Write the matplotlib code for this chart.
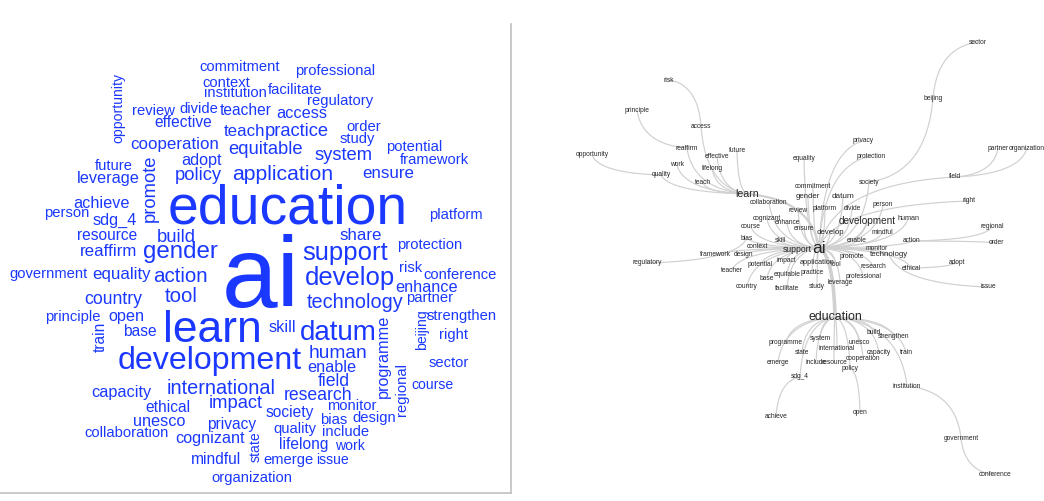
import numpy as np
import matplotlib.pyplot as plt

plt.rcParams['font.family'] = ['Liberation Sans', 'DejaVu Sans']

# ---- word cloud data: word and (estimated) frequency ----
words = ['commitment', 'context', 'institution', 'opportunity', 'review', 'divide',
         'teacher', 'effective', 'teach', 'practice', 'cooperation', 'equitable',
         'adopt', 'future', 'leverage', 'promote', 'policy', 'application', 'achieve',
         'person', 'sdg_4', 'resource', 'build', 'reaffirm', 'gender', 'government',
         'equality', 'action', 'country', 'tool', 'principle', 'open', 'train', 'base',
         'learn', 'development', 'capacity', 'international', 'ethical', 'impact',
         'unesco', 'privacy', 'collaboration', 'cognizant', 'mindful', 'organization',
         'state', 'support', 'share', 'develop', 'technology', 'risk', 'conference',
         'enhance', 'partner', 'strengthen', 'beijing', 'right', 'skill', 'datum',
         'programme', 'human', 'enable', 'field', 'sector', 'regional', 'course',
         'research', 'monitor', 'society', 'bias', 'design', 'quality', 'include',
         'lifelong', 'work', 'emerge', 'issue', 'professional', 'facilitate',
         'regulatory', 'access', 'order', 'study', 'potential', 'system', 'framework',
         'ensure', 'platform', 'protection', 'education', 'ai']
counts = [2, 2, 2, 1, 2, 2,
          3, 3, 5, 7, 5, 7,
          4, 2, 4, 7, 7, 11, 4,
          2, 4, 3, 7, 5, 15, 2,
          5, 10, 6, 10, 2, 4, 3, 3,
          43, 26, 4, 9, 3, 7,
          4, 3, 2, 4, 3, 2,
          1, 17, 5, 17, 9, 2, 2,
          4, 2, 2, 1, 2, 4, 20,
          4, 8, 4, 6, 2, 2, 1,
          6, 2, 3, 2, 2, 2, 2,
          3, 1, 2, 1, 2, 2,
          2, 4, 2, 2, 2, 7, 2,
          5, 2, 2, 58, 120]
vertical_words = {'opportunity', 'promote', 'train', 'programme', 'beijing',
                  'regional', 'state'}

# layout of the cloud (pixel centres)
cloud_pos = {
    'commitment': (240, 67), 'context': (226, 83), 'institution': (235, 93),
    'opportunity': (118, 108), 'review': (153, 111), 'divide': (199, 109),
    'teacher': (246, 110), 'effective': (183, 122), 'teach': (245, 131),
    'practice': (297, 132), 'cooperation': (175, 144), 'equitable': (266, 150),
    'adopt': (202, 160), 'future': (114, 166), 'leverage': (108, 178),
    'promote': (150, 188), 'policy': (198, 175), 'application': (283, 175),
    'achieve': (102, 203), 'person': (67, 213), 'sdg_4': (115, 220),
    'resource': (107, 236), 'build': (176, 237), 'reaffirm': (109, 252),
    'gender': (180, 252), 'government': (48, 274), 'equality': (122, 274),
    'action': (180, 276), 'country': (113, 300), 'tool': (181, 297),
    'principle': (73, 317), 'open': (126, 317), 'train': (100, 337),
    'base': (140, 332), 'learn': (212, 331), 'development': (210, 361),
    'capacity': (121, 392), 'international': (221, 388), 'ethical': (168, 408),
    'impact': (236, 403), 'unesco': (159, 422), 'privacy': (232, 424),
    'collaboration': (127, 433), 'cognizant': (210, 439), 'mindful': (216, 459),
    'organization': (252, 478), 'state': (256, 447), 'support': (345, 253),
    'share': (361, 235), 'develop': (350, 278), 'technology': (355, 302),
    'risk': (411, 268), 'conference': (460, 275), 'enhance': (427, 287),
    'partner': (430, 298), 'strengthen': (462, 316), 'beijing': (422, 330),
    'right': (454, 335), 'skill': (282, 328), 'datum': (338, 333),
    'programme': (383, 356), 'human': (338, 353), 'enable': (332, 368),
    'field': (334, 381), 'sector': (449, 363), 'regional': (402, 389),
    'course': (432, 385), 'research': (318, 395), 'monitor': (352, 406),
    'society': (290, 413), 'bias': (334, 420), 'design': (374, 418),
    'quality': (295, 429), 'include': (346, 432), 'lifelong': (304, 445),
    'work': (350, 446), 'emerge': (288, 460), 'issue': (332, 460),
    'professional': (335, 71), 'facilitate': (295, 90), 'regulatory': (340, 101),
    'access': (302, 113), 'order': (364, 127), 'study': (357, 139),
    'potential': (414, 147), 'system': (344, 156), 'framework': (434, 160),
    'ensure': (388, 173), 'platform': (456, 215), 'protection': (430, 245),
    'education': (288, 210), 'ai': (261, 281),
}

# ---- co-occurrence network ----
edges = [
    ('ai', 'education'), ('ai', 'learn'), ('ai', 'development'),
    ('learn', 'teach'), ('learn', 'lifelong'), ('learn', 'effective'),
    ('learn', 'future'), ('learn', 'access'), ('learn', 'work'),
    ('learn', 'reaffirm'), ('learn', 'quality'),
    ('access', 'risk'), ('reaffirm', 'principle'), ('quality', 'opportunity'),
    ('ai', 'equality'), ('ai', 'commitment'), ('ai', 'gender'), ('ai', 'datum'),
    ('ai', 'review'), ('ai', 'platform'), ('ai', 'divide'), ('ai', 'person'),
    ('ai', 'society'), ('ai', 'privacy'), ('ai', 'protection'),
    ('ai', 'collaboration'), ('ai', 'cognizant'), ('ai', 'enhance'),
    ('ai', 'course'), ('ai', 'ensure'), ('ai', 'develop'), ('ai', 'mindful'),
    ('ai', 'bias'), ('ai', 'skill'), ('ai', 'enable'), ('ai', 'context'),
    ('ai', 'support'), ('ai', 'framework'), ('ai', 'design'), ('ai', 'monitor'),
    ('ai', 'promote'), ('ai', 'technology'), ('ai', 'impact'),
    ('ai', 'application'), ('ai', 'tool'), ('ai', 'potential'),
    ('ai', 'research'), ('ai', 'teacher'), ('ai', 'base'), ('ai', 'equitable'),
    ('ai', 'practice'), ('ai', 'professional'), ('ai', 'leverage'),
    ('ai', 'country'), ('ai', 'facilitate'), ('ai', 'study'), ('ai', 'human'),
    ('ai', 'action'), ('ai', 'ethical'), ('ai', 'right'), ('ai', 'field'),
    ('society', 'beijing'), ('beijing', 'sector'),
    ('field', 'partner'), ('field', 'organization'),
    ('action', 'regional'), ('action', 'order'), ('ethical', 'adopt'),
    ('technology', 'issue'), ('bias', 'regulatory'),
    ('education', 'programme'), ('education', 'system'), ('education', 'state'),
    ('education', 'emerge'), ('education', 'include'), ('education', 'resource'),
    ('education', 'policy'), ('education', 'international'),
    ('education', 'unesco'), ('education', 'cooperation'), ('education', 'build'),
    ('education', 'strengthen'), ('education', 'capacity'), ('education', 'train'),
    ('education', 'institution'), ('education', 'sdg_4'),
    ('sdg_4', 'achieve'), ('policy', 'open'),
    ('institution', 'government'), ('government', 'conference'),
]

node_pos = {
    'risk': (669, 80), 'principle': (637, 110), 'access': (701, 126),
    'reaffirm': (687, 148), 'future': (737, 151), 'effective': (717, 156),
    'opportunity': (592, 155), 'equality': (804, 158), 'work': (677, 165),
    'lifelong': (712, 168), 'quality': (661, 175), 'teach': (703, 183),
    'learn': (747, 194), 'commitment': (813, 187), 'collaboration': (769, 202),
    'review': (798, 210), 'gender': (808, 197), 'datum': (843, 197),
    'platform': (825, 209), 'divide': (852, 209), 'person': (883, 205),
    'society': (869, 182), 'cognizant': (767, 219), 'enhance': (787, 223),
    'course': (751, 227), 'ensure': (804, 228), 'develop': (830, 232),
    'development': (867, 221), 'mindful': (882, 233), 'bias': (747, 238),
    'skill': (780, 240), 'enable': (857, 240), 'context': (757, 246),
    'support': (797, 249), 'ai': (819, 248), 'framework': (715, 255),
    'design': (743, 255), 'monitor': (877, 248), 'promote': (852, 256),
    'technology': (889, 254), 'impact': (786, 260), 'application': (817, 262),
    'tool': (836, 265), 'potential': (760, 265), 'research': (873, 267),
    'teacher': (732, 270), 'base': (767, 278), 'equitable': (787, 274),
    'practice': (812, 273), 'professional': (863, 277), 'leverage': (840, 282),
    'country': (747, 286), 'facilitate': (787, 288), 'study': (817, 287),
    'education': (835, 317), 'regulatory': (647, 263), 'sector': (978, 42),
    'beijing': (933, 98), 'privacy': (863, 141), 'protection': (871, 156),
    'partner': (998, 148), 'organization': (1027, 148), 'field': (955, 177),
    'right': (969, 201), 'human': (908, 219), 'regional': (992, 227),
    'action': (912, 241), 'order': (996, 243), 'adopt': (957, 262),
    'ethical': (911, 268), 'issue': (988, 287), 'build': (874, 333),
    'strengthen': (894, 337), 'programme': (786, 343), 'system': (820, 339),
    'unesco': (859, 343), 'state': (802, 352), 'international': (837, 349),
    'capacity': (879, 353), 'train': (906, 353), 'emerge': (778, 362),
    'include': (816, 362), 'resource': (834, 363), 'cooperation': (863, 358),
    'policy': (850, 368), 'sdg_4': (800, 377), 'institution': (907, 386),
    'achieve': (776, 417), 'open': (860, 412), 'government': (961, 438),
    'conference': (995, 475),
}

# label sizes in the network (pt)
node_size = {'ai': 12.5, 'education': 8.9, 'learn': 7.6, 'development': 7.2,
             'support': 6.2, 'datum': 5.9, 'develop': 5.7, 'technology': 5.7,
             'gender': 5.6, 'application': 5.3, 'human': 5.2}
edge_width = {('ai', 'education'): 2.6, ('ai', 'learn'): 1.6,
              ('ai', 'development'): 1.4}
leave_vertical = {('access', 'risk'), ('beijing', 'sector'), ('ai', 'field'),
                  ('ai', 'right'), ('technology', 'issue'),
                  ('government', 'conference'), ('ai', 'privacy'),
                  ('ai', 'protection'), ('bias', 'regulatory'), ('ai', 'learn')}


def bend(p, c, vertical):
    p = np.array(p, float)
    c = np.array(c, float)
    corner = np.array([p[0], c[1]]) if vertical else np.array([c[0], p[1]])
    ctrl = 0.8 * corner + 0.2 * (p + c) / 2
    t = np.linspace(0, 1, 50)[:, None]
    return (1 - t) ** 2 * p + 2 * (1 - t) * t * ctrl + t ** 2 * c


fig = plt.figure(figsize=(10.44, 5.01), dpi=100)
ax = fig.add_axes([0, 0, 1, 1])
ax.set_xlim(0, 1044)
ax.set_ylim(501, 0)
ax.axis('off')

# word cloud
for w, n in zip(words, counts):
    x, y = cloud_pos[w]
    fs = 9.6 + 0.52 * n
    ax.text(x, y, w, fontsize=fs, color='#1a38ff', ha='center', va='center',
            rotation=90 if w in vertical_words else 0)

# frame lines of left panel
ax.plot([511, 511], [24, 493], color='#c0c0c0', lw=1.2)
ax.plot([0, 511], [493, 493], color='#c0c0c0', lw=1.2)

# network
for a, b in edges:
    pts = bend(node_pos[a], node_pos[b], (a, b) in leave_vertical)
    ax.plot(pts[:, 0], pts[:, 1], color='#d0d0d0',
            lw=edge_width.get((a, b), 0.85), solid_capstyle='round', zorder=1)

for name, (x, y) in node_pos.items():
    ax.text(x, y, name, fontsize=node_size.get(name, 4.8), color='#262626',
            ha='center', va='center', zorder=2)

fig.savefig('out.png', dpi=100)
